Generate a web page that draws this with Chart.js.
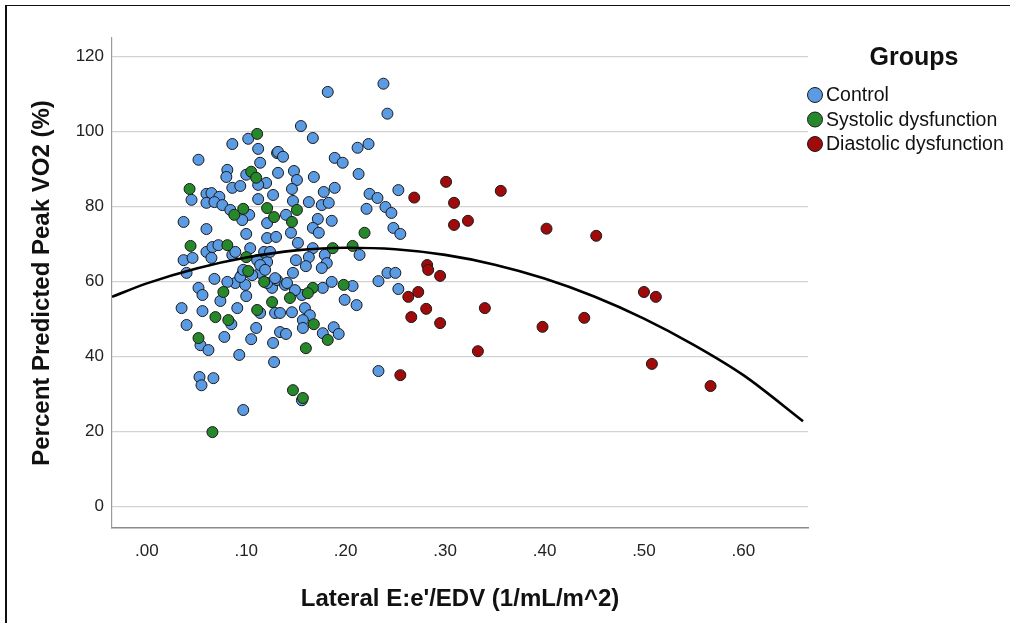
<!DOCTYPE html>
<html lang="en">
<head>
  <meta charset="UTF-8">
  <title>Peak VO2 vs Lateral E:e'/EDV</title>
  <script src="https://cdn.jsdelivr.net/npm/chart.js"></script>
  <style>
    html, body { margin: 0; padding: 0; background: #fff; }
    #wrap { width: 1010px; height: 623px; position: relative; }
  </style>
</head>
<body>
  <div id="wrap"><canvas id="scatter" width="1010" height="623"></canvas></div>

  <script>
    // points: [Lateral E:e'/EDV, % predicted peak VO2]
    const controlPoints = [
      [0.052,92.5],[0.086,96.7],[0.102,98.1],[0.112,95.4],[0.114,91.7],[0.131,94.3],[0.081,89.8],[0.080,87.9],
      [0.100,88.5],[0.120,86.3],[0.112,85.8],[0.086,85.0],[0.094,85.5],[0.045,81.8],[0.060,83.4],[0.065,83.6],
      [0.073,82.6],[0.060,81.0],[0.068,81.2],[0.076,80.4],[0.112,82.0],[0.127,83.1],[0.121,75.6],[0.084,79.1],
      [0.103,77.8],[0.096,76.4],[0.037,75.9],[0.060,74.0],[0.100,72.7],[0.121,71.6],[0.130,71.9],[0.060,67.9],
      [0.066,69.2],[0.072,69.7],[0.086,67.1],[0.104,68.9],[0.037,65.7],[0.046,66.3],[0.065,66.3],[0.111,65.7],
      [0.121,65.2],[0.118,67.9],[0.155,101.5],[0.167,98.3],[0.212,95.7],[0.223,96.7],[0.132,94.6],[0.137,93.3],
      [0.189,93.0],[0.197,91.7],[0.132,89.0],[0.148,89.5],[0.151,87.1],[0.168,87.9],[0.213,88.7],[0.146,84.7],
      [0.178,83.9],[0.189,85.0],[0.224,83.4],[0.232,82.3],[0.240,79.9],[0.163,81.2],[0.147,81.5],[0.176,80.4],
      [0.183,81.0],[0.221,79.4],[0.140,77.8],[0.172,76.7],[0.186,76.2],[0.167,74.3],[0.173,73.0],[0.145,73.0],
      [0.152,70.3],[0.167,68.9],[0.214,67.1],[0.179,67.1],[0.163,66.5],[0.150,65.7],[0.181,64.9],[0.160,64.1],
      [0.124,67.9],[0.182,110.6],[0.238,112.8],[0.242,104.8],[0.253,84.4],[0.246,78.3],[0.248,74.3],[0.255,72.7],
      [0.040,62.3],[0.068,60.7],[0.052,58.3],[0.056,56.4],[0.074,54.8],[0.035,52.9],[0.056,52.1],[0.091,52.9],
      [0.085,48.6],[0.040,48.4],[0.054,43.0],[0.062,41.7],[0.078,45.2],[0.110,47.6],[0.105,44.6],[0.093,40.4],
      [0.114,51.6],[0.053,34.5],[0.067,34.2],[0.055,32.3],[0.097,25.7],[0.096,62.0],[0.089,59.6],[0.099,59.1],
      [0.100,56.1],[0.081,59.9],[0.114,62.3],[0.126,58.3],[0.129,51.6],[0.127,43.6],[0.128,38.5],[0.147,62.3],
      [0.176,63.6],[0.131,60.4],[0.139,59.1],[0.177,58.3],[0.186,59.9],[0.207,58.8],[0.233,60.1],[0.242,62.3],
      [0.250,62.3],[0.253,58.0],[0.199,55.1],[0.211,53.7],[0.156,56.4],[0.134,51.6],[0.146,51.8],[0.159,52.9],
      [0.164,51.0],[0.157,49.7],[0.157,47.6],[0.134,46.5],[0.140,46.0],[0.177,46.2],[0.188,47.8],[0.193,46.0],
      [0.233,36.1],[0.156,28.3],[0.094,61.2],[0.121,59.6],[0.129,60.9],[0.141,59.6],[0.149,57.7],[0.089,67.9],
      [0.114,64.4],[0.119,63.1],[0.106,61.7],[0.097,63.1]
    ];
    const systolicPoints = [
      [0.111,99.4],[0.105,89.3],[0.110,87.7],[0.043,84.7],[0.121,79.6],[0.128,77.2],[0.088,77.8],[0.097,79.4],
      [0.044,69.5],[0.081,69.7],[0.100,66.5],[0.151,79.1],[0.146,75.9],[0.219,73.0],[0.187,68.9],[0.207,69.5],
      [0.077,57.2],[0.102,62.8],[0.069,50.5],[0.082,49.7],[0.052,44.9],[0.111,52.4],[0.066,19.8],[0.118,59.9],
      [0.126,54.5],[0.167,58.3],[0.162,56.9],[0.198,59.1],[0.144,55.6],[0.168,48.6],[0.182,44.4],[0.160,42.2],
      [0.147,31.0],[0.157,28.9]
    ];
    const diastolicPoints = [
      [0.269,82.4],[0.301,86.6],[0.309,81.0],[0.323,76.2],[0.309,75.1],[0.356,84.2],[0.402,74.1],[0.452,72.2],
      [0.263,55.9],[0.273,57.2],[0.266,50.5],[0.255,35.0],[0.282,64.4],[0.283,63.1],[0.295,61.5],[0.281,52.7],
      [0.295,48.9],[0.340,52.9],[0.333,41.4],[0.398,47.9],[0.440,50.3],[0.500,57.2],[0.512,55.9],[0.508,38.0],
      [0.567,32.1]
    ];

    // quadratic fit line
    const fitX = [-0.035, 0.00, 0.05, 0.10, 0.15, 0.20, 0.25, 0.30, 0.35, 0.40, 0.45, 0.50, 0.55, 0.60, 0.66];
    const fitY = [55.9, 59.5, 63.5, 66.4, 68.3, 69.0, 68.6, 67.1, 64.5, 60.8, 56.0, 50.1, 43.1, 35.0, 22.7];

    const groupNames = ['Control', 'Systolic dysfunction', 'Diastolic dysfunction'];
    const xTickValues = [0, 0.1, 0.2, 0.3, 0.4, 0.5, 0.6];
    const xTickLabels = ['.00', '.10', '.20', '.30', '.40', '.50', '.60'];
    const yTickValues = [0, 20, 40, 60, 80, 100, 120];

    const FONT = '"Liberation Sans", Arial, sans-serif';
    const toXY = pts => pts.map(p => ({ x: p[0], y: p[1] }));

    function pointSet(label, pts, fill, order) {
      return {
        label: label,
        data: toXY(pts),
        backgroundColor: fill,
        borderColor: '#1a1a1a',
        borderWidth: 1,
        pointRadius: 5.5,
        order: order
      };
    }

    // frame + legend drawn by hand, like the SPSS output
    const groupsLegend = {
      id: 'groupsLegend',
      afterDraw(chart) {
        const c = chart.ctx;
        c.save();
        c.fillStyle = '#111';
        c.fillRect(5, 5, 2, 618);
        c.fillRect(5, 5, 1005, 1);

        c.font = 'bold 25px ' + FONT;
        c.textAlign = 'center';
        c.textBaseline = 'middle';
        c.fillText('Groups', 914, 58);

        c.font = '19.5px ' + FONT;
        c.textAlign = 'left';
        chart.data.datasets.forEach(ds => {
          const k = groupNames.indexOf(ds.label);
          if (k < 0) return;
          const y = 95 + k * 24.5;
          c.beginPath();
          c.arc(815, y, 7.5, 0, Math.PI * 2);
          c.fillStyle = ds.backgroundColor;
          c.fill();
          c.lineWidth = 1;
          c.strokeStyle = '#1a1a1a';
          c.stroke();
          c.fillStyle = '#111';
          c.fillText(ds.label, 826, y + 1);
        });
        c.restore();
      }
    };

    const ctx = document.getElementById('scatter').getContext('2d');
    const chart = new Chart(ctx, {
      type: 'scatter',
      data: {
        datasets: [
          pointSet(groupNames[0], controlPoints, '#5b9be3', 3),
          pointSet(groupNames[1], systolicPoints, '#27872b', 2),
          pointSet(groupNames[2], diastolicPoints, '#a00a0a', 1),
          {
            label: 'Quadratic fit',
            data: fitX.map((x, i) => ({ x: x, y: fitY[i] })),
            showLine: true,
            borderColor: '#000',
            borderWidth: 2.6,
            pointRadius: 0,
            cubicInterpolationMode: 'monotone',
            fill: false,
            order: 0
          }
        ]
      },
      options: {
        responsive: false,
        animation: false,
        layout: { padding: { left: 24, top: 38, right: 202, bottom: 5 } },
        plugins: { legend: { display: false }, tooltip: { enabled: false } },
        scales: {
          x: {
            type: 'linear',
            min: -0.035,
            max: 0.665,
            grid: { display: false },
            border: { display: true, color: '#8a8a8a', width: 1.5 },
            afterBuildTicks: s => { s.ticks = xTickValues.map(v => ({ value: v })); },
            afterFit: s => { s.height = 90; },
            ticks: {
              autoSkip: false,
              maxRotation: 0,
              padding: 5,
              color: '#222',
              font: { family: FONT, size: 17 },
              callback: (v, i) => xTickLabels[i]
            },
            title: {
              display: true,
              text: "Lateral E:e'/EDV (1/mL/m^2)",
              color: '#111',
              font: { family: FONT, size: 24, weight: 'bold' },
              padding: { top: 4, bottom: 4 }
            }
          },
          y: {
            min: -5.8,
            max: 125,
            grid: { color: '#d2d2d2', lineWidth: 1.2, drawTicks: false },
            border: { display: true, color: '#9a9a9a', width: 1.2 },
            afterBuildTicks: s => { s.ticks = yTickValues.map(v => ({ value: v })); },
            afterFit: s => { s.width = 88; },
            ticks: {
              padding: 8,
              color: '#222',
              font: { family: FONT, size: 17 }
            },
            title: {
              display: true,
              text: 'Percent Predicted Peak VO2 (%)',
              color: '#111',
              font: { family: FONT, size: 24, weight: 'bold' },
              padding: { top: 4, bottom: 4 }
            }
          }
        }
      },
      plugins: [groupsLegend]
    });
  </script>
</body>
</html>
